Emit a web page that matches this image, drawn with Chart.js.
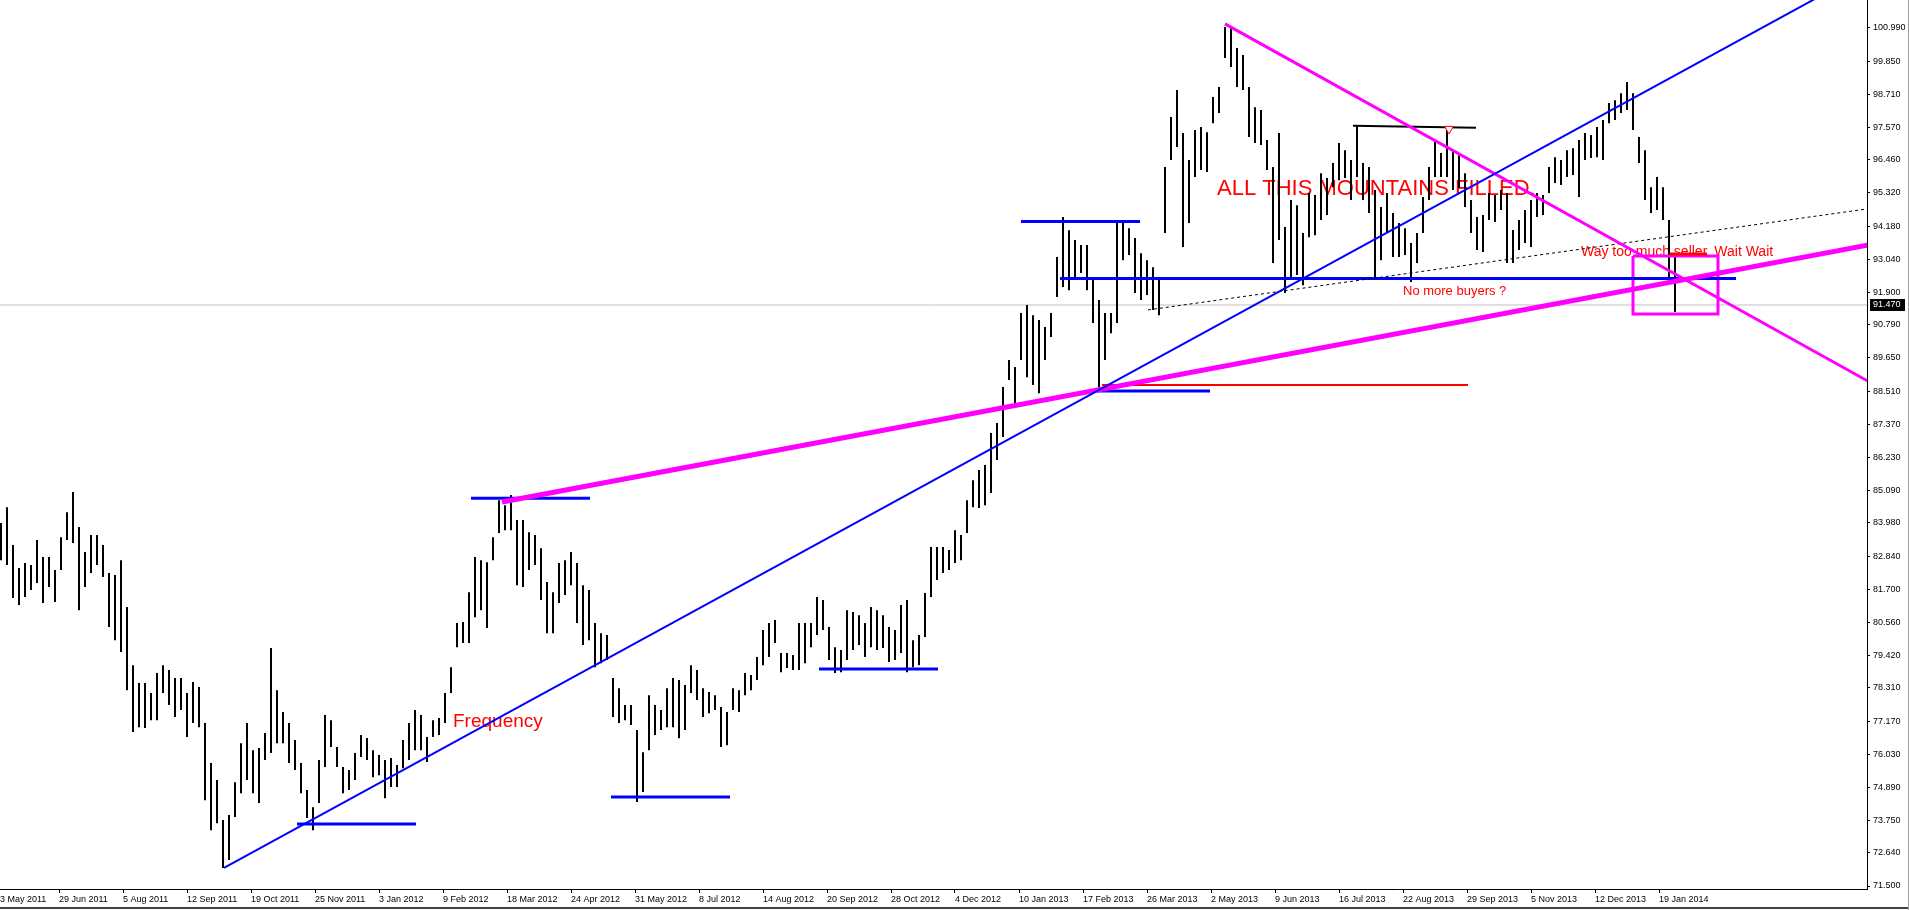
<!DOCTYPE html>
<html>
<head>
<meta charset="utf-8">
<script src="https://cdn.jsdelivr.net/npm/chart.js@4.4.1/dist/chart.umd.min.js"></script>
<style>
body{margin:0;background:#fff;overflow:hidden}
#wrap{position:absolute;left:-10px;top:0;width:1919px;height:910px}
</style>
</head>
<body>
<div id="wrap"><canvas id="chart"></canvas></div>
<script>
// one drawn bar stands for three daily bars, a day is one x unit
const barStep = 3
const labelStep = 32

const dateLabels = ["23 May 2011","29 Jun 2011","5 Aug 2011","12 Sep 2011","19 Oct 2011","25 Nov 2011","3 Jan 2012","9 Feb 2012","18 Mar 2012","24 Apr 2012","31 May 2012","8 Jul 2012","14 Aug 2012","20 Sep 2012","28 Oct 2012","4 Dec 2012","10 Jan 2013","17 Feb 2013","26 Mar 2013","2 May 2013","9 Jun 2013","16 Jul 2013","22 Aug 2013","29 Sep 2013","5 Nov 2013","12 Dec 2013","19 Jan 2014"]

const priceTicks = [71.5,72.64,73.75,74.89,76.03,77.17,78.31,79.42,80.56,81.7,82.84,83.98,85.09,86.23,87.37,88.51,89.65,90.79,91.9,93.04,94.18,95.32,96.46,97.57,98.71,99.85,100.99]

const highs = [
83.98,84.52,83.22,82.43,82.60,82.53,83.39,82.81,82.81,82.36,83.49,84.35,85.04,83.84,82.98,83.56,83.56,83.22,82.26,82.19,
82.70,81.09,79.09,78.48,78.48,78.13,78.82,79.09,78.92,78.65,78.65,78.13,78.51,78.34,77.10,75.73,75.14,73.77,73.94,75.07,
76.41,77.10,76.17,76.24,76.76,79.68,78.23,77.48,77.10,76.52,75.73,74.80,74.21,75.83,77.38,77.20,76.28,75.59,75.49,76.07,
76.69,76.59,76.17,76.00,75.83,75.90,75.66,76.52,77.10,77.55,77.38,76.62,77.20,77.27,78.13,79.02,80.54,80.57,81.60,82.81,
82.70,82.63,83.49,84.76,84.59,84.94,84.08,84.08,83.66,83.56,83.11,81.95,81.60,82.60,82.70,82.98,82.60,81.84,81.67,80.54,
80.19,80.13,78.65,78.30,77.72,77.72,76.86,76.10,78.06,77.72,77.55,78.30,78.65,78.58,78.41,79.09,78.92,78.30,78.17,78.06,
77.65,77.48,78.30,78.23,78.82,78.75,79.37,80.30,80.54,80.64,79.51,79.51,79.44,80.54,80.54,80.54,81.43,81.33,80.40,79.71,
79.61,80.98,80.92,80.81,80.54,81.09,80.98,80.81,80.40,80.30,81.16,81.33,79.95,80.13,81.57,83.15,83.15,83.15,83.05,83.73,
83.56,84.76,85.45,85.80,85.97,87.07,87.41,88.65,89.58,89.34,91.19,91.47,91.12,90.95,90.71,91.19,93.12,94.49,94.04,93.70,
93.53,93.53,92.33,91.64,91.19,91.19,94.32,94.29,94.11,93.77,93.25,93.01,92.77,92.33,96.21,97.93,98.86,97.38,96.45,97.48,
97.59,97.41,98.62,98.96,101.02,100.99,100.30,100.06,98.96,98.27,98.17,97.14,96.21,97.38,94.15,95.08,94.90,93.94,95.32,95.25,
96.00,95.83,96.35,97.04,96.79,96.45,97.65,96.35,96.21,95.42,94.84,95.32,94.63,94.29,94.11,93.60,93.94,95.18,96.21,97.14,
96.69,97.59,96.79,96.62,96.00,95.08,94.49,94.56,95.32,95.25,95.42,95.32,94.05,94.39,94.73,95.08,95.32,95.25,96.21,96.55,
96.45,96.79,96.86,97.14,97.38,97.31,97.59,97.83,98.41,98.51,98.75,99.13,98.75,97.24,96.79,95.52,95.87,95.52,94.39,93.25
]

const lows = [
82.70,82.53,81.40,81.16,81.43,81.67,81.91,81.23,81.78,81.26,82.36,83.39,83.29,80.98,81.78,82.26,82.53,82.12,80.40,79.95,
79.54,78.23,76.79,76.96,76.93,77.20,77.20,78.13,77.72,77.31,77.55,76.62,77.10,76.96,74.45,73.42,73.66,72.12,72.39,73.87,
74.69,75.14,74.69,74.35,75.83,76.07,76.41,76.41,75.73,75.49,74.69,73.84,73.42,74.35,75.59,76.28,75.59,74.69,74.80,75.14,
75.93,75.83,75.24,75.31,74.52,74.90,74.90,75.55,75.83,76.17,76.17,75.76,76.62,76.69,77.10,78.13,79.71,79.85,79.85,80.74,
80.98,80.37,82.70,83.63,83.73,83.73,81.84,81.78,82.36,82.53,81.33,80.19,80.19,81.23,81.50,81.84,80.54,79.78,79.95,79.02,
79.16,79.27,77.31,77.10,77.20,77.03,74.39,74.73,76.17,76.69,76.86,76.96,76.96,76.58,76.86,78.13,77.89,77.31,77.44,77.55,
76.28,76.34,77.55,77.48,78.06,78.23,78.58,79.09,79.37,79.85,78.85,78.99,78.92,78.92,79.16,79.71,80.13,80.30,79.27,78.82,
78.85,79.27,79.61,79.78,79.37,79.71,79.61,79.68,79.20,79.27,79.51,78.85,79.02,79.09,80.06,81.43,82.02,82.26,82.36,82.60,
82.70,83.63,84.52,84.49,84.59,85.01,86.14,86.93,88.89,87.96,89.58,88.99,88.72,88.44,89.58,90.37,91.74,92.09,91.98,92.33,
92.57,91.98,90.85,88.48,89.58,90.50,90.85,93.01,93.19,91.88,91.64,91.81,91.30,91.12,93.94,96.45,96.90,93.46,94.29,95.87,
96.11,96.04,97.72,98.07,99.96,99.65,98.96,98.86,97.24,97.04,96.97,96.11,92.91,93.70,91.88,92.33,92.50,92.15,93.80,93.87,
94.39,94.56,95.52,95.76,95.83,95.08,95.87,95.08,94.63,92.33,93.01,93.94,93.12,93.12,93.19,92.26,92.91,93.94,95.08,95.87,
95.87,95.87,95.42,95.49,94.84,93.94,93.36,93.29,94.39,94.32,94.73,92.91,92.91,93.36,93.60,93.46,94.49,94.56,95.32,95.66,
95.59,95.87,95.94,95.18,96.45,96.52,96.55,96.45,97.72,97.83,98.07,98.17,97.48,96.35,95.08,94.63,94.73,94.39,92.33,91.23
]

const lastPrice = 91.47

// hand drawn objects on the chart, as [day, price]
const blueTrend = [[114.5,72.12],[922.5,102.46]]
const pinkSupport = [[253.5,84.70],[936.5,93.53]]
const pinkFall = [[615,101.13],[936.5,88.85]]
const dotted = [[576.5,91.30],[936,94.77]]
const blueLevels = [[151,210.5,73.63],[238,297.5,84.83],[308,367.5,74.56],[412,471.5,78.96],[513,572.5,94.34],[551,607.5,88.51]]
const neckline = [[532.5,92.38],[870.5,92.38]]
const redLevel = [[553.5,88.72],[736.5,88.72]]
const redMark = [[837.5,93.22],[856,93.22]]
const topLine = [[679,97.63],[740.5,97.56]]
const box = [[819,93.15],[861.5,93.15],[861.5,91.16],[819,91.16],[819,93.15]]
const arrow = [[727,97.52]]

const notes = [
{text:"ALL THIS MOUNTAINS FILLED.", day:611, price:95.25, size:22},
{text:"No more buyers ?", day:704, price:91.80, size:13},
{text:"Frequency", day:229, price:76.98, size:19},
{text:"Way too much seller, Wait Wait", day:793, price:93.15, size:14}
]

const axisFamily = "'Liberation Sans', Arial, sans-serif"
const axisSize = 9

function line(points, color, width, more){
return Object.assign({
type:"line",
data:points.map(p => ({x:p[0], y:p[1]})),
borderColor:color,
borderWidth:width,
pointRadius:0,
fill:false,
clip:0,
order:1
}, more || {})
}

const notesPlugin = {
id:"notes",
beforeDatasetsDraw(chart){
const {ctx, scales:{x, y}} = chart
ctx.save()
ctx.fillStyle = "#ff0000"
ctx.textBaseline = "alphabetic"
ctx.textAlign = "left"
notes.forEach(n => {
ctx.font = n.size + "px 'Liberation Sans', Arial, sans-serif"
ctx.fillText(n.text, x.getPixelForValue(n.day), y.getPixelForValue(n.price))
})
ctx.restore()
},
afterDraw(chart){
const {ctx, scales:{y}} = chart
const py = Math.round(y.getPixelForValue(lastPrice))
ctx.save()
ctx.fillStyle = "#000"
ctx.fillRect(y.left + 3, py - 6, 35, 12)
ctx.fillStyle = "#fff"
ctx.font = axisSize + "px " + axisFamily
ctx.textBaseline = "middle"
ctx.textAlign = "left"
ctx.fillText(lastPrice.toFixed(3), y.left + 6, py)
// window frame
ctx.fillStyle = "#404040"
ctx.fillRect(0, chart.height - 3, chart.width, 2)
ctx.fillStyle = "#a0a0a0"
ctx.fillRect(chart.width - 1, 0, 1, chart.height)
ctx.restore()
}
}

const datasets = [
{type:"scatter", data:arrow.map(p => ({x:p[0], y:p[1]})), pointStyle:"triangle", rotation:180, pointRadius:5, pointBorderColor:"#ff0000", pointBackgroundColor:"#ffffff", pointBorderWidth:1, order:0},
line(blueTrend, "#0000ff", 2),
line(pinkSupport, "#ff00ff", 5),
line(pinkFall, "#ff00ff", 3),
line(dotted, "#000000", 1, {borderDash:[3,3]}),
...blueLevels.map(l => line([[l[0], l[2]], [l[1], l[2]]], "#0000ff", 3)),
line(neckline, "#0000ff", 3),
line(redLevel, "#ff0000", 2),
line(redMark, "#ff0000", 3),
line(topLine, "#000000", 2),
line(box, "#ff00ff", 3, {borderJoinStyle:"miter"}),
{type:"bar", data:highs.map((h, i) => ({x:(i + 1) * barStep, y:[lows[i], h]})), backgroundColor:"#000000", borderWidth:0, barThickness:2, inflateAmount:0, order:5},
line([[-2.5, lastPrice], [936, lastPrice]], "#c0c0c0", 1, {order:9})
]

new Chart(document.getElementById("chart"), {
type:"line",
data:{datasets:datasets},
options:{
responsive:true,
maintainAspectRatio:false,
animation:false,
events:[],
layout:{padding:0, autoPadding:false},
plugins:{legend:{display:false}, tooltip:{enabled:false}},
scales:{
x:{
type:"linear",
min:-2.5,
max:936,
offset:false,
grid:{drawOnChartArea:false, tickLength:4, color:"#000", offset:false},
border:{color:"#000", width:1},
ticks:{autoSkip:false, maxRotation:0, minRotation:0, align:"start", padding:1, color:"#000", font:{family:axisFamily, size:axisSize}, callback:(v, i) => dateLabels[i]},
afterBuildTicks:s => { s.ticks = dateLabels.map((t, k) => ({value:k * labelStep})) },
afterFit:s => { s.height = 21; s.paddingLeft = 0; s.paddingRight = 0 }
},
y:{
position:"right",
min:71.397,
max:101.952,
grid:{drawOnChartArea:false, tickLength:3, color:"#000"},
border:{color:"#000", width:1},
ticks:{padding:3, color:"#000", font:{family:axisFamily, size:axisSize}, callback:v => v.toFixed(3)},
afterBuildTicks:s => { s.ticks = priceTicks.map(v => ({value:v})) },
afterFit:s => { s.width = 42; s.paddingTop = 0; s.paddingBottom = 0 }
}
}
},
plugins:[notesPlugin]
})
</script>
</body>
</html>
